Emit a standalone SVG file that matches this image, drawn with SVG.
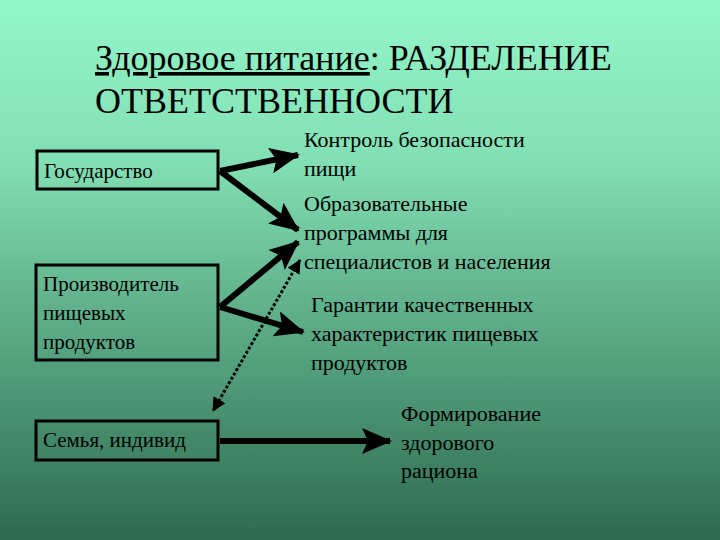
<svg xmlns="http://www.w3.org/2000/svg" width="720" height="540" viewBox="0 0 720 540">
<defs>
<linearGradient id="bg" x1="0" y1="0" x2="0" y2="1">
<stop offset="0" stop-color="#92f6c9"/>
<stop offset="0.3" stop-color="#82dfb4"/>
<stop offset="0.55" stop-color="#62b48e"/>
<stop offset="1" stop-color="#2d6a4f"/>
</linearGradient>
<marker id="ah" markerUnits="userSpaceOnUse" markerWidth="30" markerHeight="26" refX="28" refY="13" orient="auto">
<path d="M0,0 L30,13 L0,26 L6,13 Z" fill="#000"/>
</marker>
<marker id="dh" markerUnits="userSpaceOnUse" markerWidth="14" markerHeight="14" refX="13" refY="7" orient="auto-start-reverse">
<path d="M0,0 L14,7 L0,14 Z" fill="#000"/>
</marker>
</defs>
<rect width="720" height="540" fill="url(#bg)"/>
<text font-family="Liberation Serif" font-size="36" x="95" y="70"><tspan text-decoration="underline">Здоровое питание</tspan>: РАЗДЕЛЕНИЕ</text>
<text font-family="Liberation Serif" font-size="36" x="95" y="113">ОТВЕТСТВЕННОСТИ</text>
<g id="gosudarstvo" font-family="Liberation Serif" font-size="21">
<rect fill="none" stroke="#000" stroke-width="3" x="37" y="151" width="181" height="38"/>
<text x="44" y="178">Государство</text>
</g>
<g id="proizvoditel" font-family="Liberation Serif" font-size="21">
<rect fill="none" stroke="#000" stroke-width="3" x="36" y="265" width="182" height="95"/>
<text x="43" y="291">Производитель</text>
<text x="43" y="320">пищевых</text>
<text x="43" y="349">продуктов</text>
</g>
<g id="semya" font-family="Liberation Serif" font-size="21">
<rect fill="none" stroke="#000" stroke-width="3" x="36" y="421" width="182" height="39"/>
<text x="43" y="447">Семья, индивид</text>
</g>
<g id="kontrol" font-family="Liberation Serif" font-size="22">
<text x="304" y="147">Контроль безопасности</text>
<text x="304" y="176">пищи</text>
</g>
<g id="obrazovatelnye" font-family="Liberation Serif" font-size="22">
<text x="304" y="211">Образовательные</text>
<text x="304" y="240">программы для</text>
<text x="304" y="269">специалистов и населения</text>
</g>
<g id="garantii" font-family="Liberation Serif" font-size="22">
<text x="311" y="312">Гарантии качественных</text>
<text x="311" y="341">характеристик пищевых</text>
<text x="311" y="370">продуктов</text>
</g>
<g id="formirovanie" font-family="Liberation Serif" font-size="22">
<text x="401" y="421">Формирование</text>
<text x="401" y="450">здорового</text>
<text x="401" y="478">рациона</text>
</g>
<g id="connectors" stroke="#000" fill="none">
<line stroke-width="6" marker-end="url(#ah)" x1="220" y1="171" x2="298" y2="155"/>
<line stroke-width="6" marker-end="url(#ah)" x1="220" y1="171" x2="298" y2="230"/>
<line stroke-width="6" marker-end="url(#ah)" x1="220" y1="307" x2="298" y2="242"/>
<line stroke-width="6" marker-end="url(#ah)" x1="220" y1="307" x2="303" y2="332"/>
<line stroke-width="6" marker-end="url(#ah)" x1="220" y1="441" x2="390" y2="441"/>
<line stroke-width="3" stroke-dasharray="3 2" marker-start="url(#dh)" marker-end="url(#dh)" x1="300" y1="260" x2="213" y2="411"/>
</g>
</svg>
